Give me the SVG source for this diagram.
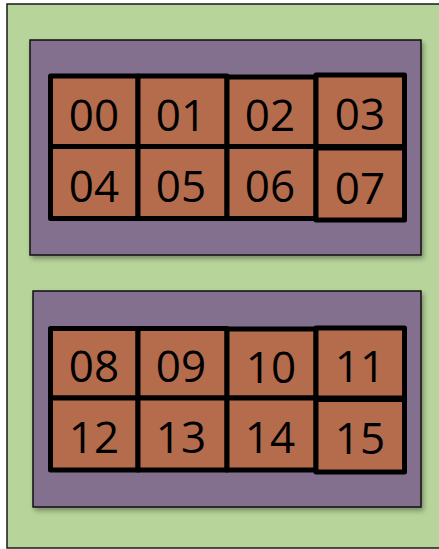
<svg xmlns="http://www.w3.org/2000/svg" width="439" height="549" viewBox="0 0 439 549">
<defs>
<filter id="sh" x="-5%" y="-5%" width="115%" height="115%">
<feGaussianBlur in="SourceAlpha" stdDeviation="2.5"/>
<feOffset dx="2" dy="3" result="b"/>
<feComponentTransfer><feFuncA type="linear" slope="0.35"/></feComponentTransfer>
<feMerge><feMergeNode/><feMergeNode in="SourceGraphic"/></feMerge>
</filter>
</defs>
<style>
.bg{fill:#b7d49a;stroke:#1a1a1a;stroke-width:1.5}
.grp{fill:#82708e;stroke:#111;stroke-width:1.5}
.cell{fill:#b46c4c;stroke:#000;stroke-width:5;stroke-linejoin:round}
.t{font-family:"Open Sans","Liberation Sans",sans-serif;font-size:44px;fill:#000;text-anchor:middle}
</style>
<rect id="container" class="bg" x="7" y="4" width="440" height="544"/>
<g id="group-top" filter="url(#sh)"><rect class="grp" x="30" y="40" width="391" height="215"/></g>
<g id="group-bottom" filter="url(#sh)"><rect class="grp" x="33" y="291" width="388" height="216"/></g>
<g id="connectors"/>
<g id="n00"><rect class="cell" x="50.5" y="76" width="87.5" height="70.5"/><text class="t" x="94" y="131">00</text></g>
<g id="n01"><rect class="cell" x="138" y="76" width="89" height="70.5"/><text class="t" x="181" y="131">01</text></g>
<g id="n02"><rect class="cell" x="227" y="77" width="89" height="69.5"/><text class="t" x="270" y="131">02</text></g>
<g id="n03"><rect class="cell" x="316" y="75" width="88.5" height="71.5"/><text class="t" x="360" y="130">03</text></g>
<g id="n04"><rect class="cell" x="50.5" y="146.5" width="87.5" height="72"/><text class="t" x="94" y="202">04</text></g>
<g id="n05"><rect class="cell" x="138" y="146.5" width="89" height="72"/><text class="t" x="181" y="202">05</text></g>
<g id="n06"><rect class="cell" x="227" y="146.5" width="89" height="72"/><text class="t" x="270" y="202">06</text></g>
<g id="n07"><rect class="cell" x="316" y="148" width="88.5" height="72"/><text class="t" x="360" y="204">07</text></g>
<g id="n08"><rect class="cell" x="50.5" y="328.5" width="87.5" height="69.5"/><text class="t" x="94" y="382">08</text></g>
<g id="n09"><rect class="cell" x="138" y="328.5" width="89" height="69.5"/><text class="t" x="181" y="382">09</text></g>
<g id="n10"><rect class="cell" x="227" y="329" width="89" height="69"/><text class="t" x="271" y="383">10</text></g>
<g id="n11"><rect class="cell" x="316" y="328" width="88.5" height="70"/><text class="t" x="360" y="382">11</text></g>
<g id="n12"><rect class="cell" x="50.5" y="398" width="87.5" height="72"/><text class="t" x="94" y="453">12</text></g>
<g id="n13"><rect class="cell" x="138" y="398" width="89" height="72"/><text class="t" x="181" y="453">13</text></g>
<g id="n14"><rect class="cell" x="227" y="398" width="89" height="72"/><text class="t" x="270" y="453">14</text></g>
<g id="n15"><rect class="cell" x="316" y="399.5" width="88.5" height="72.5"/><text class="t" x="360" y="454">15</text></g>
</svg>
